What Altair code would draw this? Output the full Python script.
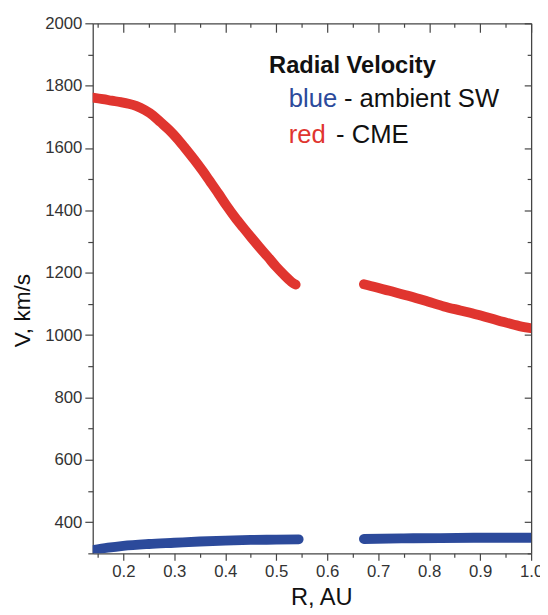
import altair as alt
import pandas as pd

# ---- data ----
r_cme_1 = [0.140, 0.160, 0.177, 0.195, 0.210, 0.225, 0.242, 0.258, 0.273, 0.290,
           0.306, 0.322, 0.339, 0.355, 0.370, 0.387, 0.403, 0.419, 0.435, 0.451,
           0.467, 0.484, 0.500, 0.516, 0.532, 0.538]
v_cme_1 = [1762, 1757, 1752, 1747, 1742, 1735, 1722, 1705, 1683, 1658,
           1630, 1598, 1563, 1528, 1493, 1453, 1414, 1378, 1345, 1313,
           1282, 1250, 1219, 1192, 1168, 1162]
r_cme_2 = [0.672, 0.680, 0.722, 0.764, 0.797, 0.829, 0.861, 0.893, 0.935, 0.977, 1.000]
v_cme_2 = [1163, 1160, 1142, 1124, 1108, 1092, 1079, 1066, 1047, 1029, 1022]

r_sw_1 = [0.140, 0.170, 0.200, 0.250, 0.300, 0.350, 0.400, 0.450, 0.500, 0.544]
v_sw_1 = [310, 318, 324, 330, 334, 338, 341, 343, 344, 345]
r_sw_2 = [0.672, 0.750, 0.822, 0.900, 1.000]
v_sw_2 = [346, 348, 349, 350, 350]

x_major = [0.2, 0.3, 0.4, 0.5, 0.6, 0.7, 0.8, 0.9, 1.0]
x_minor = [0.15, 0.25, 0.35, 0.45, 0.55, 0.65, 0.75, 0.85, 0.95]
y_major = [400, 600, 800, 1000, 1200, 1400, 1600, 1800, 2000]
y_minor = [300, 500, 700, 900, 1100, 1300, 1500, 1700, 1900]

legend_title = ["Radial Velocity"]
legend_blue = ["blue"]
legend_blue_rest = ["- ambient SW"]
legend_red = ["red"]
legend_red_rest = ["- CME"]

RED = "#e0352f"
BLUE = "#2c4a9b"

rows = []
for series, seg, rs, vs in [
    ("ambient SW", "sw1", r_sw_1, v_sw_1),
    ("ambient SW", "sw2", r_sw_2, v_sw_2),
    ("CME", "cme1", r_cme_1, v_cme_1),
    ("CME", "cme2", r_cme_2, v_cme_2),
]:
    for r, v in zip(rs, vs):
        rows.append({"r": r, "v": v, "series": series, "seg": seg})
df = pd.DataFrame(rows)

xs = alt.Scale(domain=[0.14, 1.0], nice=False, zero=False)
ys = alt.Scale(domain=[300, 2000], nice=False, zero=False)

LABEL_FONT = "Liberation Sans, Arial, sans-serif"
TXT_FONT = "Liberation Sans, Arial, sans-serif"
TICK = "#444444"

common_axis = dict(grid=False, domain=False, tickColor=TICK, tickWidth=1.2)

# main data layer with major (labelled) axes
lines = alt.Chart(df).mark_line(
    strokeWidth=10, strokeCap="round", strokeJoin="round",
    interpolate="monotone", clip=True
).encode(
    x=alt.X("r:Q", scale=xs, axis=alt.Axis(
        orient="bottom", values=x_major, format=".1f", tickSize=7,
        labelFont=LABEL_FONT, labelFontSize=17, labelColor="#333333",
        labelPadding=4, labelFlush=False, labelOverlap=False,
        title="R, AU", titleFont=TXT_FONT, titleFontSize=24,
        titleFontWeight="normal", titleColor="#111111",
        titleX=232, titleY=52, titleBaseline="alphabetic", **common_axis)),
    y=alt.Y("v:Q", scale=ys, axis=alt.Axis(
        orient="left", values=y_major, format="d", tickSize=8,
        labelFont=LABEL_FONT, labelFontSize=17, labelColor="#333333",
        labelPadding=3, labelOverlap=False, labelFlush=False,
        title="V, km/s", titleFont=TXT_FONT, titleFontSize=23,
        titleFontWeight="normal", titleColor="#111111",
        titleX=-64, titleY=291, titleBaseline="alphabetic", **common_axis)),
    color=alt.Color("series:N", scale=alt.Scale(domain=["CME", "ambient SW"],
                                                range=[RED, BLUE]), legend=None),
    detail="seg:N",
)

# minor ticks bottom / left
minor = alt.Chart(df).mark_point(opacity=0).encode(
    x=alt.X("r:Q", scale=xs, axis=alt.Axis(
        orient="bottom", values=x_minor, tickSize=4, labels=False, title=None,
        **common_axis)),
    y=alt.Y("v:Q", scale=ys, axis=alt.Axis(
        orient="left", values=y_minor, tickSize=5, labels=False, title=None,
        **common_axis)),
)

# top / right frame with inward major ticks
frame_major = alt.Chart(df).mark_point(opacity=0).encode(
    x=alt.X("r:Q", scale=xs, axis=alt.Axis(
        orient="bottom", offset=-538, values=x_major, tickSize=9, labels=False,
        title=None, grid=False, domain=True, domainColor=TICK, domainWidth=1.3,
        tickColor=TICK, tickWidth=1.2)),
    y=alt.Y("v:Q", scale=ys, axis=alt.Axis(
        orient="left", offset=-445, values=y_major, tickSize=7, labels=False,
        title=None, grid=False, domain=True, domainColor=TICK, domainWidth=1.3,
        tickColor=TICK, tickWidth=1.2)),
)

frame_minor = alt.Chart(df).mark_point(opacity=0).encode(
    x=alt.X("r:Q", scale=xs, axis=alt.Axis(
        orient="bottom", offset=-538, values=x_minor, tickSize=4, labels=False,
        title=None, **common_axis)),
    y=alt.Y("v:Q", scale=ys, axis=alt.Axis(
        orient="left", offset=-445, values=y_minor, tickSize=4, labels=False,
        title=None, **common_axis)),
)

# bottom-left domain lines
frame_bl = alt.Chart(df).mark_point(opacity=0).encode(
    x=alt.X("r:Q", scale=xs, axis=alt.Axis(
        orient="bottom", values=[], ticks=False, labels=False, title=None,
        grid=False, domain=True, domainColor=TICK, domainWidth=1.3)),
    y=alt.Y("v:Q", scale=ys, axis=alt.Axis(
        orient="left", values=[], ticks=False, labels=False, title=None,
        grid=False, domain=True, domainColor=TICK, domainWidth=1.3)),
)


def txt(values, x, y, color, size, weight="normal"):
    return alt.Chart(pd.DataFrame({"t": values})).mark_text(
        align="left", baseline="alphabetic", font=TXT_FONT, fontSize=size,
        fontWeight=weight, color=color
    ).encode(text="t:N", x=alt.value(x), y=alt.value(y))


t_title = txt(legend_title, 179, 50, "#111111", 24, "bold")
t_blue = txt(legend_blue, 199, 85, BLUE, 26)
t_blue2 = txt(legend_blue_rest, 255, 85, "#111111", 26)
t_red = txt(legend_red, 199, 121, RED, 26)
t_red2 = txt(legend_red_rest, 247, 121, "#111111", 26)

chart = alt.layer(
    lines, minor, frame_major, frame_minor, frame_bl,
    t_title, t_blue, t_blue2, t_red, t_red2
).resolve_scale(x="shared", y="shared").resolve_axis(
    x="independent", y="independent"
).properties(
    width=445, height=538,
    padding={"left": 86, "top": 11, "right": 9, "bottom": 56},
    autosize=alt.AutoSizeParams(type="none"),
    background="white",
).configure_view(stroke=None)

chart.save("out.html", embed_options={"renderer": "svg", "actions": False})
